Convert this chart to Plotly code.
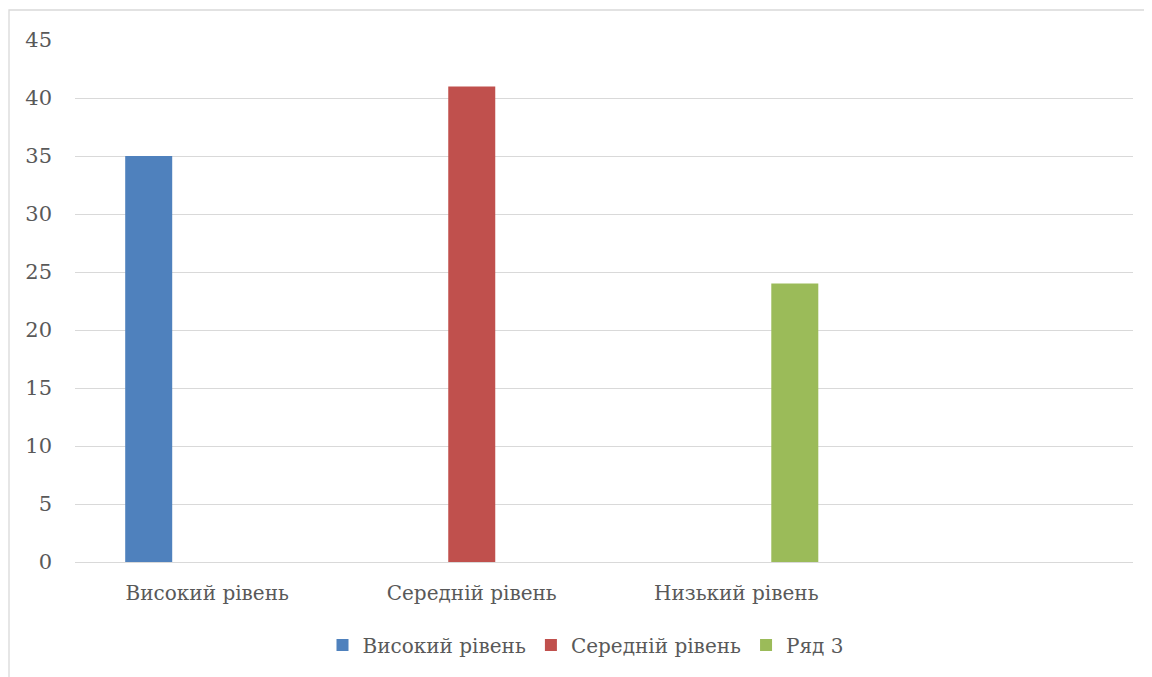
import plotly.graph_objects as go

categories = ["Високий рівень", "Середній рівень", "Низький рівень", ""]
series_names = ["Високий рівень", "Середній рівень", "Ряд 3"]
series_values = [
    [35, None, None, None],
    [None, 41, None, None],
    [None, None, 24, None],
]
colors = ["#4f81bd", "#c0504d", "#9bbb59"]
y_ticks = [0, 5, 10, 15, 20, 25, 30, 35, 40, 45]

FONT = "DejaVu Serif"
TXT = "#595959"
FS = 20

fig = go.Figure()
xpos = list(range(len(categories)))
for name, vals, col in zip(series_names, series_values, colors):
    fig.add_trace(go.Bar(x=xpos, y=vals, name=name, marker=dict(color=col, line=dict(width=0))))

L, T, R, B = 67, 32, 27, 123
PW = 1152 - L - R
PH = 677 - T - B

fig.update_layout(
    width=1152, height=677,
    margin=dict(l=L, r=R, t=T, b=B),
    paper_bgcolor="white", plot_bgcolor="white",
    barmode="group", bargap=0.336, bargroupgap=0.197,
    font=dict(family=FONT, size=FS, color=TXT),
    showlegend=True,
    legend=dict(orientation="h", x=0.5 - 18 / PW, xanchor="center", y=(554 - 637) / PH, yanchor="middle",
                font=dict(family=FONT, size=FS, color=TXT), itemwidth=30, traceorder="normal"),
    xaxis=dict(range=[-0.5, 3.5], tickvals=xpos[:3], ticktext=categories[:3],
               showgrid=False, zeroline=False, showline=False, ticks="",
               ticklabelstandoff=17, tickfont=dict(family=FONT, size=FS, color=TXT)),
    yaxis=dict(range=[0, 45], tickvals=y_ticks, showgrid=True, gridcolor="#d9d9d9", gridwidth=1.3,
               zeroline=True, zerolinecolor="#d9d9d9", zerolinewidth=1.3, showline=False,
               ticks="", ticklabelstandoff=22, tickfont=dict(family=FONT, size=21, color=TXT)),
)
# chart-area border (extends beyond the visible canvas at right and bottom)
fig.add_shape(type="rect", xref="paper", yref="paper",
              x0=(1 - L) / PW, x1=1.2, y0=-0.5, y1=1 + (T - 2) / PH,
              line=dict(color="#d9d9d9", width=1.3), fillcolor="rgba(0,0,0,0)", layer="below")

fig.write_html("out.html")
